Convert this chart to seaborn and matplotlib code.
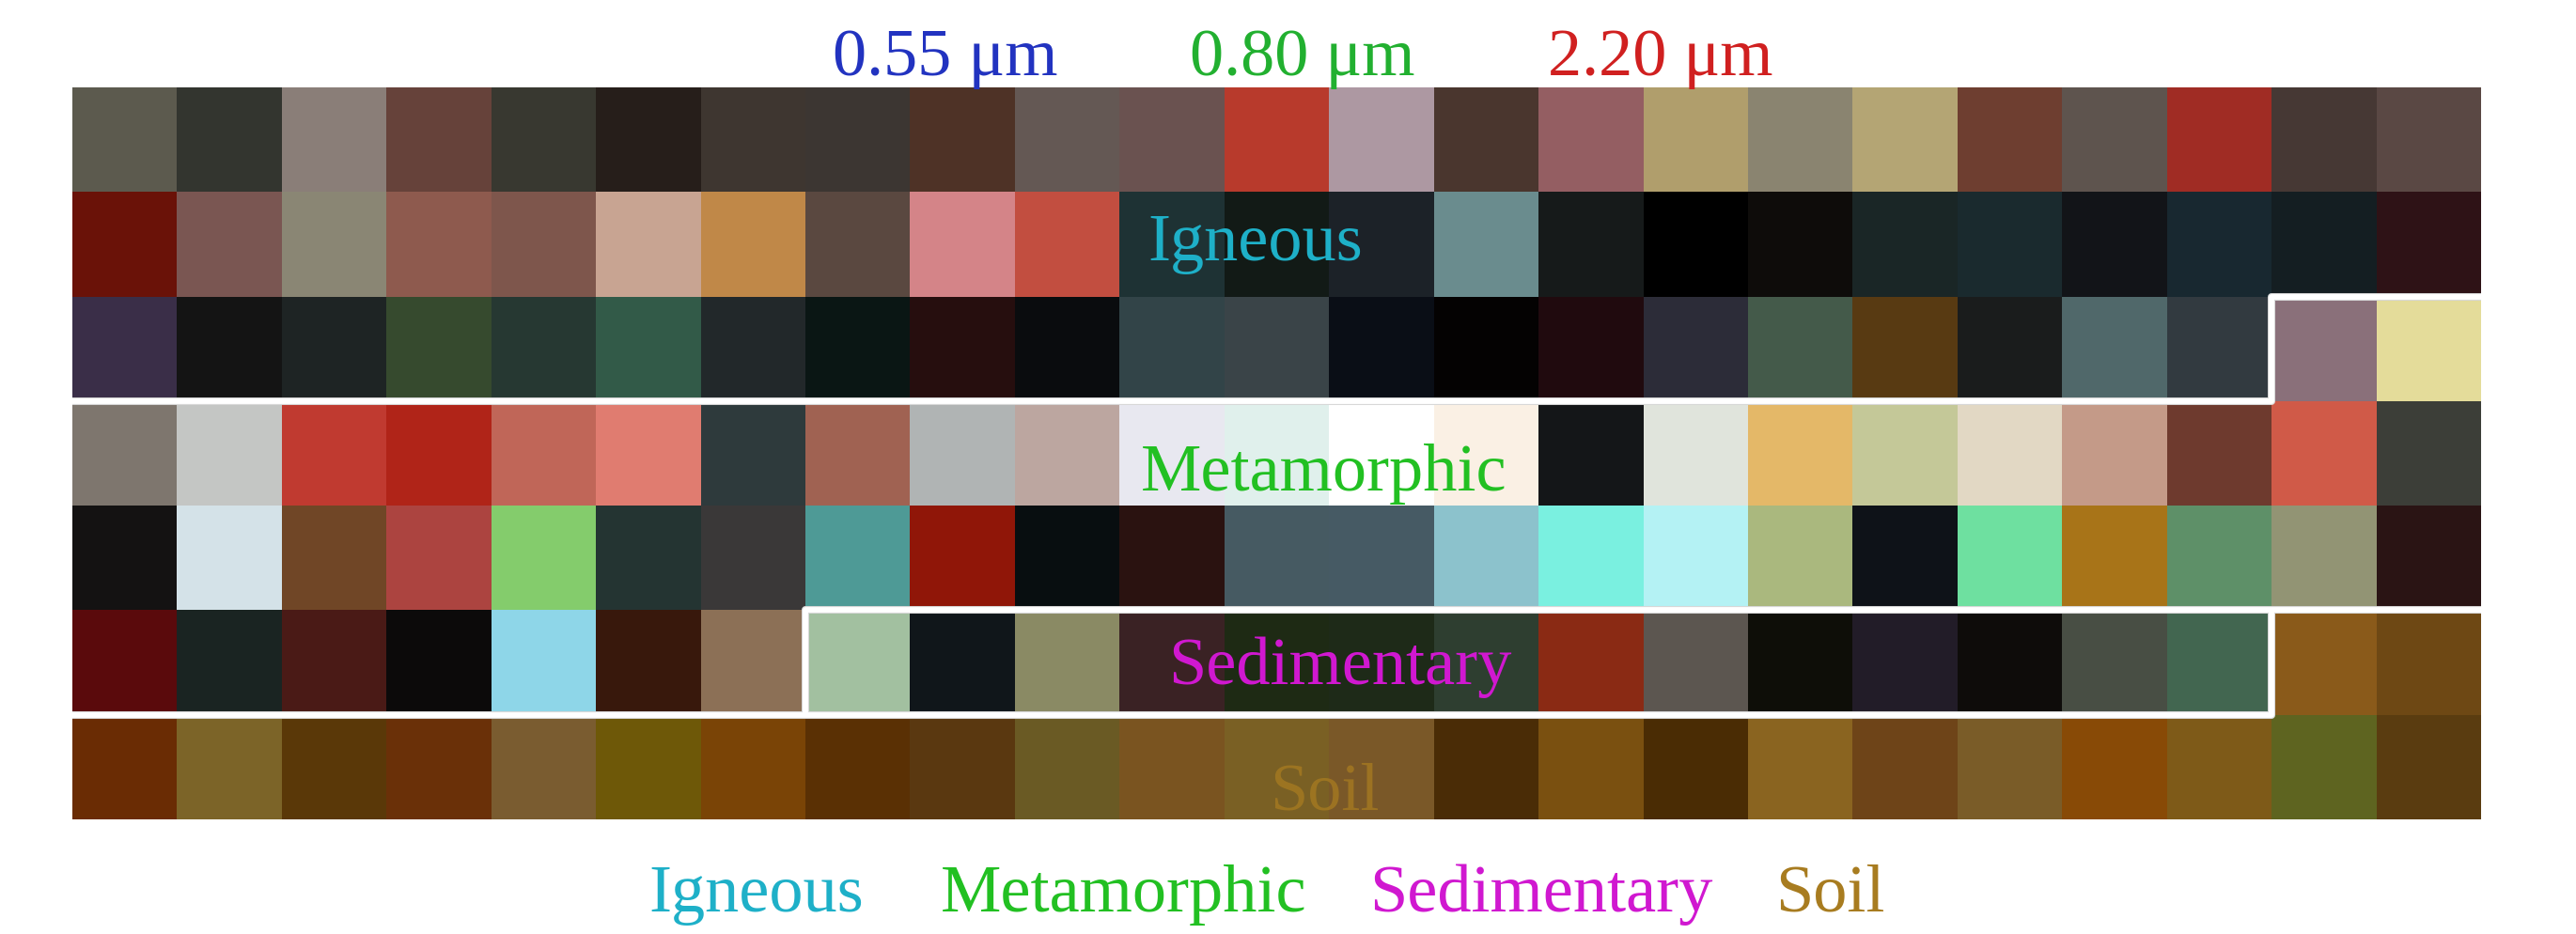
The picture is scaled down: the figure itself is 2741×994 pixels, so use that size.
import numpy as np
import matplotlib
matplotlib.use("Agg")
import matplotlib.pyplot as plt
from matplotlib.colors import ListedColormap
import seaborn as sns

# ---- data: RGB colour of each cell, row by row (top to bottom) ----
row0 = ["#5c5a4e", "#33352f", "#8a7e78", "#66423a", "#383830", "#261e1a", "#3e3630", "#3c3632",
        "#4e3226", "#645854", "#6a5250", "#b83a2c", "#ad98a2", "#4a362e", "#945e62", "#b09e6c",
        "#8a8470", "#b4a574", "#6e3e30", "#5e544e", "#a02c24", "#463834", "#5a4844"]
row1 = ["#6a1208", "#7a5652", "#8a8674", "#8e5a4e", "#7e564c", "#c8a492", "#c08848", "#5a4840",
        "#d48488", "#c24e40", "#1e3234", "#121a16", "#1c2228", "#6a8c8e", "#161a1a", "#000000",
        "#0e0c0a", "#1a2626", "#1a2a2e", "#121418", "#182830", "#141e22", "#2e1216"]
row2 = ["#3a2e48", "#141414", "#1e2424", "#364a2e", "#263832", "#325a48", "#22282a", "#0a1614",
        "#260e0e", "#0a0c0e", "#324448", "#3a4448", "#0a0e16", "#040202", "#200a0e", "#2c2c38",
        "#445a4a", "#583a12", "#1a1c1c", "#50686a", "#323a40", "#8a707a", "#e4dc9a"]
row3 = ["#7e766e", "#c4c6c4", "#c03a30", "#b02418", "#c06658", "#e07c70", "#2e3a3c", "#a06252",
        "#b0b4b4", "#bca6a0", "#e8e8f0", "#e0f0ec", "#ffffff", "#faf0e4", "#141618", "#e0e4dc",
        "#e4b868", "#c4c898", "#e2d8c4", "#c49a88", "#6e3a2e", "#d05a48", "#3c3e38"]
row4 = ["#141212", "#d4e2e8", "#704626", "#ac4440", "#84cc6c", "#243432", "#3a3838", "#4e9a96",
        "#901608", "#080e10", "#2a1210", "#465a62", "#465a64", "#8cc2cc", "#7af0e0", "#b4f2f4",
        "#aab87e", "#0e1218", "#6ee0a0", "#a87418", "#5e9068", "#929474", "#2a1414"]
row5 = ["#5a0a0c", "#1a2422", "#4a1a16", "#0c0a0a", "#8ed6e8", "#38180c", "#8c7056", "#a2c0a0",
        "#10161a", "#8a8a64", "#3a2224", "#1e2a14", "#1e2a18", "#2e3e30", "#8a2a14", "#5c5650",
        "#0e0e08", "#221c28", "#0e0c0a", "#484e44", "#426650", "#8a5a1a", "#6e4814"]
row6 = ["#6a2c04", "#7c6428", "#5a3808", "#6a3008", "#7a5c30", "#6e5808", "#7a4406", "#5a3004",
        "#5a3810", "#6a5a24", "#7a5420", "#7a6024", "#7a5828", "#4a2c06", "#7a5010", "#4a2c04",
        "#8a6420", "#6e4418", "#7a5c28", "#884a06", "#7e5a18", "#5e6420", "#5a3c10"]
rows = [row0, row1, row2, row3, row4, row5, row6]

wavelength_labels = ["0.55 \u03bcm", "0.80 \u03bcm", "2.20 \u03bcm"]
wavelength_colors = ["#2233c0", "#22b030", "#d02020"]
class_labels = ["Igneous", "Metamorphic", "Sedimentary", "Soil"]
class_colors = ["#1eb0c8", "#22c022", "#d018d0", "#a87c20"]

# ---- build index matrix + colormap ----
flat = [c for r in rows for c in r]
nrow, ncol = len(rows), len(row0)
idx = np.arange(len(flat)).reshape(nrow, ncol)
cmap = ListedColormap(flat)

sns.set_theme(style="white")
plt.rcParams['font.family'] = ['Liberation Serif', 'DejaVu Serif']

W, H, DPI = 2741, 995, 100
fig = plt.figure(figsize=(W / DPI, H / DPI), dpi=DPI)
fig.patch.set_facecolor("white")
ax = fig.add_axes([77 / W, 1 - 873 / H, (2640 - 77) / W, (873 - 94) / H])
sns.heatmap(idx, cmap=cmap, vmin=-0.5, vmax=len(flat) - 0.5, cbar=False,
            xticklabels=False, yticklabels=False, ax=ax, square=False)
for s in ax.spines.values():
    s.set_visible(False)

# ---- class boundaries ----
lw = 4.2
paths = [([0, 21, 21, 23], [3, 3, 2, 2]),
         ([0, 21, 21], [6, 6, 5]),
         ([7, 7, 23], [6, 5, 5])]
for xs, ys in paths:
    ax.plot(xs, ys, color="#d8d8d8", lw=lw + 1.6, clip_on=False, solid_capstyle="butt", zorder=3)
    ax.plot(xs, ys, color="white", lw=lw, clip_on=False, solid_capstyle="butt", zorder=4)

# ---- labels inside the grid ----
fs = 52
inner_pos = [(1336, 1.645), (1409, 3.845), (1426, 5.70), (1409, 6.90)]
for (px, yd), lab, col in zip(inner_pos, class_labels, class_colors):
    xd = (px - 77) / ((2640 - 77) / ncol)
    ax.text(xd, yd, lab, color=col, fontsize=fs, ha="center", va="baseline",
            alpha=0.75 if lab == "Soil" else 1.0, zorder=5)

# ---- wavelength titles ----
for px, lab, col in zip([1006, 1386, 1767], wavelength_labels, wavelength_colors):
    fig.text(px / W, 1 - 80 / H, lab, color=col, fontsize=fs, ha="center", va="baseline")

# ---- bottom legend ----
for px, lab, col in zip([805, 1196, 1640, 1947], class_labels, class_colors):
    fig.text(px / W, 1 - 970 / H, lab, color=col, fontsize=fs, ha="center", va="baseline")

fig.savefig("out.png", dpi=DPI, facecolor="white")
